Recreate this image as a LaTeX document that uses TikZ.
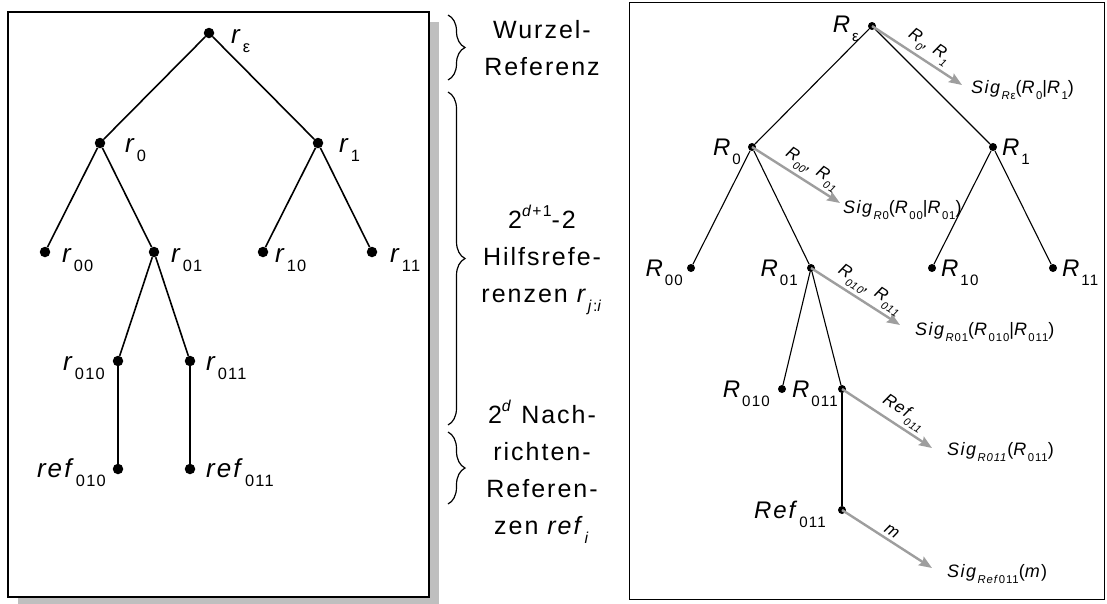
\documentclass[tikz,border=0pt]{standalone}
\usepackage{fontspec}
\setmainfont{Liberation Sans}[LetterSpace=8]
\usetikzlibrary{arrows.meta,decorations.pathreplacing}

\newcommand\lo[1]{\raisebox{-.38em}{\scalebox{.63}{#1}}}
\newcommand\hi[1]{\raisebox{.48em}{\scalebox{.63}{#1}}}

\begin{document}
\begin{tikzpicture}[x=1pt, y=-1pt,
    dot/.style={circle, fill, inner sep=0pt, minimum size=10.5pt},
    sdot/.style={circle, fill, inner sep=0pt, minimum size=8pt},
    lbl/.style={inner sep=0pt, font=\fontsize{26}{30}\selectfont},
    rlbl/.style={inner sep=0pt, font=\fontsize{24}{28}\selectfont},
    sig/.style={inner sep=0pt, anchor=base west, font=\fontsize{18}{21}\selectfont},
    albl/.style={inner sep=3pt, sloped, above, font=\fontsize{17}{20}\selectfont\itshape},
    note/.style={align=center, inner sep=0pt, anchor=base, font=\fontsize{25}{37}\selectfont},
    edge/.style={line width=1.6pt},
    redge/.style={line width=1.1pt},
    sigarr/.style={draw=black!38, line width=2.4pt, -{Stealth[length=13pt, width=10pt, inset=2pt]}},
    brc/.style={decorate, decoration={brace, amplitude=17pt}, line width=1.2pt},
]
    \useasboundingbox (0,0) rectangle (1107,603);

    % left: reference tree
    \fill[black!25] (18,22) rectangle (439,607);
    \draw[line width=1.6pt, fill=white] (8,12) rectangle (429,597);

    \node[dot] (re) at (209,33) {};
    \node[dot] (r0) at (100,143) {};
    \node[dot] (r1) at (318,143) {};
    \node[dot] (r00) at (45,252) {};
    \node[dot] (r01) at (154,252) {};
    \node[dot] (r10) at (263,252) {};
    \node[dot] (r11) at (372,252) {};
    \node[dot] (r010) at (118,361) {};
    \node[dot] (r011) at (190,361) {};
    \node[dot] (ref010) at (118,469) {};
    \node[dot] (ref011) at (190,469) {};

    \foreach \a/\b in {re/r0, re/r1, r0/r00, r0/r01, r1/r10, r1/r11,
                       r01/r010, r01/r011, r010/ref010, r011/ref011}
        \draw[edge] (\a) -- (\b);

    \node[lbl, anchor=base west] (re-t) at (231,43) {\textit{r}\lo{ε}};
    \node[lbl, anchor=base west] (r0-t) at (125,152) {\textit{r}\lo{0}};
    \node[lbl, anchor=base west] (r1-t) at (339,152) {\textit{r}\lo{1}};
    \node[lbl, anchor=base west] (r00-t) at (62,262) {\textit{r}\lo{00}};
    \node[lbl, anchor=base west] (r01-t) at (171,262) {\textit{r}\lo{01}};
    \node[lbl, anchor=base west] (r10-t) at (275,262) {\textit{r}\lo{10}};
    \node[lbl, anchor=base west] (r11-t) at (390,262) {\textit{r}\lo{11}};
    \node[lbl, anchor=base east] (r010-t) at (105,370) {\textit{r}\lo{010}};
    \node[lbl, anchor=base west] (r011-t) at (206,370) {\textit{r}\lo{011}};
    \node[lbl, anchor=base east] (ref010-t) at (106,477) {\textit{ref}\lo{010}};
    \node[lbl, anchor=base west] (ref011-t) at (206,477) {\textit{ref}\lo{011}};

    % middle: braces and notes
    \draw[brc] (448,15) -- (448,80);
    \draw[brc] (448,92) -- (448,425);
    \draw[brc] (448,432) -- (448,504);

    \node[note] (root) at (542,75) {Wurzel-\\Referenz};
    \node[note] (aux) at (542,302) {2\hi{\textit{d}+1}-2\\Hilfsrefe-\\renzen \textit{r}\lo{\textit{j}:\textit{i}}};
    \node[note] (msg) at (542,534) {2\hi{\textit{d}} Nach-\\richten-\\Referen-\\zen \textit{ref}\lo{\textit{i}}};

    % right: signature tree
    \draw[line width=1pt] (629,2) rectangle (1104,599);

    \node[sdot] (Re) at (872,26) {};
    \node[sdot] (R0) at (752,147) {};
    \node[sdot] (R1) at (993,147) {};
    \node[sdot] (R00) at (691,268) {};
    \node[sdot] (R01) at (811,268) {};
    \node[sdot] (R10) at (932,268) {};
    \node[sdot] (R11) at (1053,268) {};
    \node[sdot] (R010) at (782,389) {};
    \node[sdot] (R011) at (842,389) {};
    \node[sdot] (Ref011) at (842,510) {};

    \foreach \a/\b in {Re/R0, Re/R1, R0/R00, R0/R01, R1/R10, R1/R11,
                       R01/R010, R01/R011, R011/Ref011}
        \draw[redge] (\a) -- (\b);

    \node[rlbl, anchor=base east] (Re-t) at (859,32) {\textit{R}\lo{ε}};
    \node[rlbl, anchor=base east] (R0-t) at (741,155) {\textit{R}\lo{0}};
    \node[rlbl, anchor=base west] (R1-t) at (1002,155) {\textit{R}\lo{1}};
    \node[rlbl, anchor=base east] (R00-t) at (683,276) {\textit{R}\lo{00}};
    \node[rlbl, anchor=base east] (R01-t) at (798,276) {\textit{R}\lo{01}};
    \node[rlbl, anchor=base west] (R10-t) at (941,276) {\textit{R}\lo{10}};
    \node[rlbl, anchor=base west] (R11-t) at (1062,276) {\textit{R}\lo{11}};
    \node[rlbl, anchor=base east] (R010-t) at (770,397) {\textit{R}\lo{010}};
    \node[rlbl, anchor=base east] (R011-t) at (838,397) {\textit{R}\lo{011}};
    \node[rlbl, anchor=base east] (Ref011-t) at (826,518) {\textit{Ref}\lo{011}};

    \node[sig] (sRe) at (971,93) {\textit{Sig}\lo{\textit{R}ε}(\textit{R}\lo{0}|\textit{R}\lo{1})};
    \node[sig] (sR0) at (843,213) {\textit{Sig}\lo{\textit{R}0}(\textit{R}\lo{00}|\textit{R}\lo{01})};
    \node[sig] (sR01) at (915,335) {\textit{Sig}\lo{\textit{R}01}(\textit{R}\lo{010}|\textit{R}\lo{011})};
    \node[sig] (sR011) at (947,455) {\textit{Sig}\lo{\textit{R011}}(\textit{R}\lo{011})};
    \node[sig] (sRef) at (947,577) {\textit{Sig}\lo{\textit{Ref}011}(\textit{m})};

    \coordinate (eRe) at (962,85);
    \coordinate (eR0) at (840,203);
    \coordinate (eR01) at (900,325);
    \coordinate (eR011) at (932,448);
    \coordinate (eRef) at (932,568);

    \draw[sigarr] (Re.center) -- node[albl, pos=.55] {R\lo{0}, R\lo{1}} (eRe);
    \draw[sigarr] (R0.center) -- node[albl, pos=.6] {R\lo{00}, R\lo{01}} (eR0);
    \draw[sigarr] (R01.center) -- node[albl, pos=.58] {R\lo{010}, R\lo{011}} (eR01);
    \draw[sigarr] (R011.center) -- node[albl, pos=.6] {Ref\lo{011}} (eR011);
    \draw[sigarr] (Ref011.center) -- node[albl, pos=.5] {m} (eRef);
\end{tikzpicture}
\end{document}
